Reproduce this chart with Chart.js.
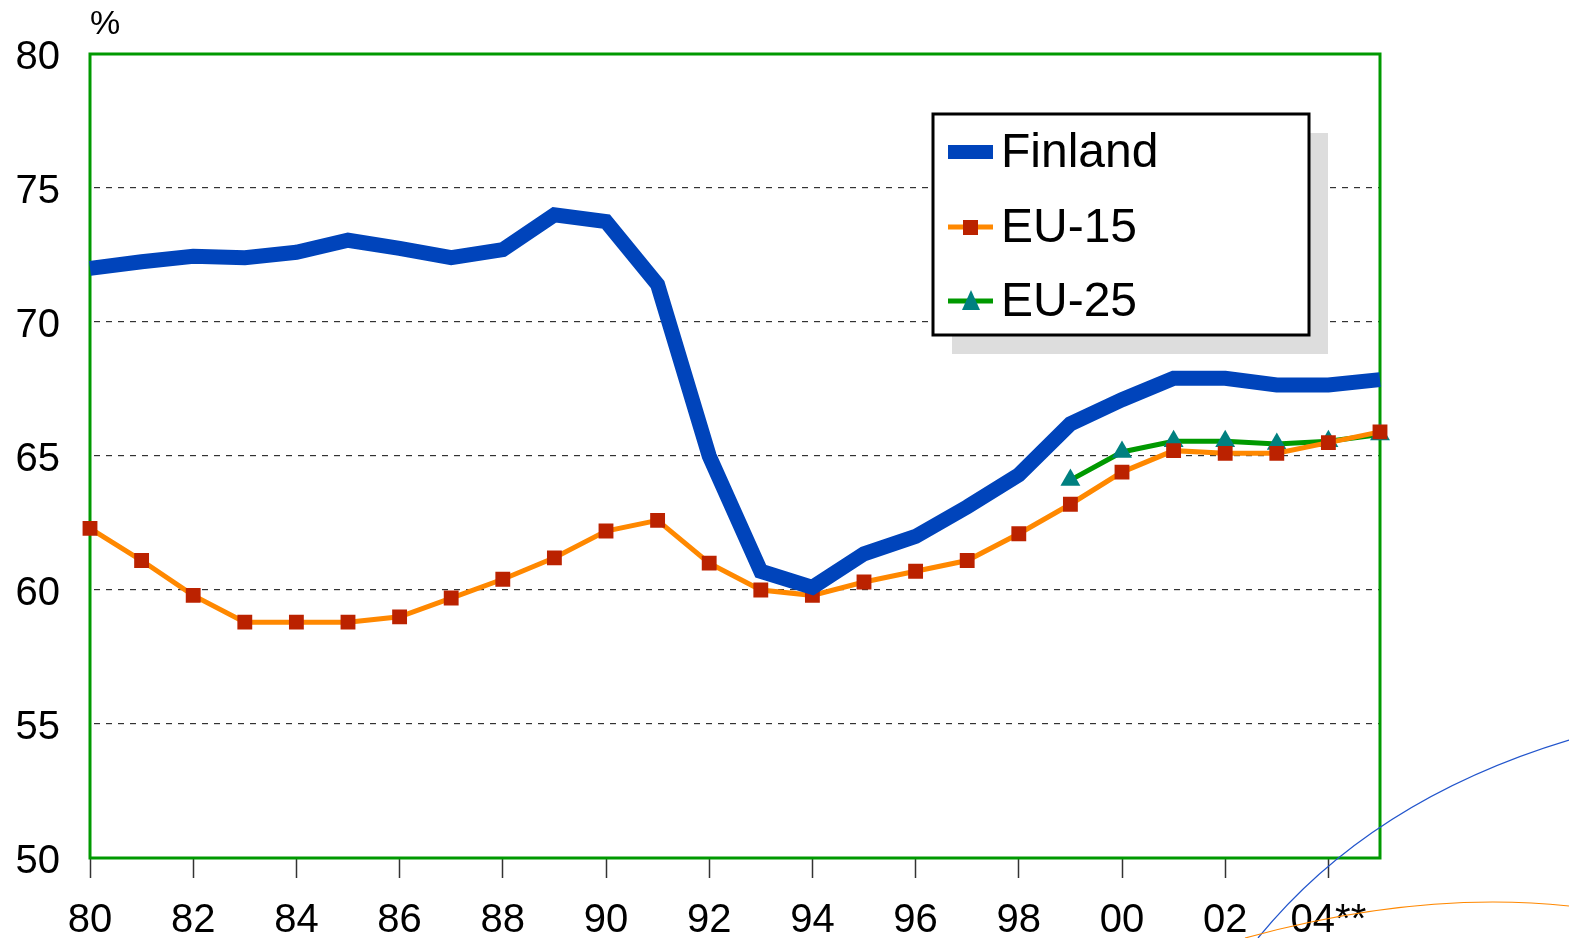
<!DOCTYPE html>
<html>
<head>
<meta charset="utf-8">
<script src="https://cdn.jsdelivr.net/npm/chart.js@4.4.1/dist/chart.umd.min.js"></script>
<style>
  html, body { margin: 0; padding: 0; background: #fff; }
  #wrap { width: 1569px; height: 938px; position: relative; }
</style>
</head>
<body>
<div id="wrap"><canvas id="c"></canvas></div>
<script>
// data
const years = [1980, 1981, 1982, 1983, 1984, 1985, 1986, 1987, 1988, 1989, 1990, 1991, 1992,
  1993, 1994, 1995, 1996, 1997, 1998, 1999, 2000, 2001, 2002, 2003, 2004, 2005];
const yearLabels = ['80', '', '82', '', '84', '', '86', '', '88', '', '90', '', '92',
  '', '94', '', '96', '', '98', '', '00', '', '02', '', '04**', ''];
const finland = [72.0, 72.25, 72.45, 72.4, 72.6, 73.05, 72.75, 72.4, 72.7, 74.0, 73.75, 71.4, 65.0,
  60.7, 60.1, 61.35, 62.0, 63.1, 64.3, 66.2, 67.1, 67.9, 67.9, 67.65, 67.65, 67.85];
const eu15 = [62.3, 61.1, 59.8, 58.8, 58.8, 58.8, 59.0, 59.7, 60.4, 61.2, 62.2, 62.6, 61.0,
  60.0, 59.8, 60.3, 60.7, 61.1, 62.1, 63.2, 64.4, 65.2, 65.1, 65.1, 65.5, 65.9];
const eu25 = [null, null, null, null, null, null, null, null, null, null, null, null, null,
  null, null, null, null, null, null, 64.1, 65.15, 65.55, 65.55, 65.45, 65.55, 65.8];
const yTicks = [50, 55, 60, 65, 70, 75, 80];

const FONT = '"Liberation Sans", Arial, sans-serif';

// frame, legend box and decoration
const decor = {
  id: 'decor',
  beforeDatasetsDraw(chart) {
    const { ctx, chartArea: a } = chart;
    ctx.save();
    ctx.strokeStyle = '#009900';
    ctx.lineWidth = 3;
    ctx.strokeRect(a.left, a.top, a.right - a.left, a.bottom - a.top);
    ctx.restore();
  },
  afterDraw(chart) {
    const { ctx } = chart;
    ctx.save();
    // "%" unit label
    ctx.fillStyle = '#000';
    ctx.font = '34px ' + FONT;
    ctx.textAlign = 'left';
    ctx.textBaseline = 'alphabetic';
    ctx.fillText('%', 90, 34);

    // legend with shadow
    const bx = 933, by = 114, bw = 376, bh = 221;
    ctx.fillStyle = '#dddddd';
    ctx.fillRect(bx + 19, by + 19, bw, bh);
    ctx.fillStyle = '#fff';
    ctx.fillRect(bx, by, bw, bh);
    ctx.strokeStyle = '#000';
    ctx.lineWidth = 3;
    ctx.strokeRect(bx, by, bw, bh);

    const items = chart.data.datasets;
    const rows = [152, 227, 301];
    items.forEach((ds, i) => {
      const y = rows[i];
      ctx.strokeStyle = ds.borderColor;
      ctx.lineWidth = i === 0 ? 14 : 5;
      ctx.beginPath();
      ctx.moveTo(948, y);
      ctx.lineTo(993, y);
      ctx.stroke();
      if (ds.pointStyle === 'rect') {
        ctx.fillStyle = ds.pointBackgroundColor;
        ctx.fillRect(963, y - 7, 15, 15);
      } else if (ds.pointStyle === 'triangle') {
        ctx.fillStyle = ds.pointBackgroundColor;
        ctx.beginPath();
        ctx.moveTo(971, y - 11);
        ctx.lineTo(980, y + 9);
        ctx.lineTo(962, y + 9);
        ctx.closePath();
        ctx.fill();
      }
      ctx.fillStyle = '#000';
      ctx.font = '48px ' + FONT;
      ctx.textBaseline = 'middle';
      ctx.fillText(ds.label, 1001, y + 2);
    });

    // slide decoration curves bottom right
    ctx.lineWidth = 1.2;
    ctx.strokeStyle = '#2255cc';
    ctx.beginPath();
    ctx.moveTo(1258, 938);
    ctx.quadraticCurveTo(1370, 800, 1569, 740);
    ctx.stroke();
    ctx.strokeStyle = '#ff8800';
    ctx.beginPath();
    ctx.moveTo(1245, 938);
    ctx.quadraticCurveTo(1420, 890, 1569, 906);
    ctx.stroke();
    ctx.restore();
  }
};

new Chart(document.getElementById('c'), {
  type: 'line',
  data: {
    labels: years,
    datasets: [
      {
        label: 'Finland',
        data: finland,
        borderColor: '#0044bb',
        borderWidth: 15,
        pointRadius: 0,
        tension: 0,
        borderJoinStyle: 'miter'
      },
      {
        label: 'EU-15',
        data: eu15,
        borderColor: '#ff8800',
        borderWidth: 5,
        pointStyle: 'rect',
        pointRadius: 10.5,
        pointBackgroundColor: '#bb2200',
        pointBorderColor: '#bb2200',
        pointBorderWidth: 0,
        tension: 0
      },
      {
        label: 'EU-25',
        data: eu25,
        borderColor: '#009900',
        borderWidth: 5,
        pointStyle: 'triangle',
        pointRadius: 11.5,
        pointBackgroundColor: '#008080',
        pointBorderColor: '#008080',
        pointBorderWidth: 0,
        tension: 0,
        order: 1
      }
    ]
  },
  options: {
    responsive: true,
    maintainAspectRatio: false,
    animation: false,
    layout: { padding: { top: 53, right: 189, left: 0, bottom: 0 } },
    plugins: { legend: { display: false }, tooltip: { enabled: false } },
    scales: {
      x: {
        type: 'category',
        offset: false,
        afterFit(s) { s.height = 80; },
        border: { display: false },
        grid: {
          drawOnChartArea: false,
          drawTicks: true,
          tickLength: 20,
          tickWidth: 1.5,
          tickColor: ctx => yearLabels[ctx.index] ? '#333' : 'rgba(0,0,0,0)'
        },
        ticks: {
          autoSkip: false,
          maxRotation: 0,
          padding: 19,
          color: '#000',
          font: { family: FONT, size: 40 },
          callback: (v, i) => yearLabels[i]
        }
      },
      y: {
        min: 50,
        max: 80,
        afterFit(s) { s.width = 90; },
        afterBuildTicks(s) { s.ticks = yTicks.map(v => ({ value: v })); },
        border: { display: false, dash: [6, 6], dashOffset: -4 },
        grid: {
          drawTicks: false,
          lineWidth: 1.2,
          color: ctx => (ctx.tick && (ctx.tick.value === 50 || ctx.tick.value === 80)) ? 'rgba(0,0,0,0)' : '#333'
        },
        ticks: {
          padding: 30,
          labelOffset: 4,
          color: '#000',
          font: { family: FONT, size: 40 }
        }
      }
    }
  },
  plugins: [decor]
});
</script>
</body>
</html>
